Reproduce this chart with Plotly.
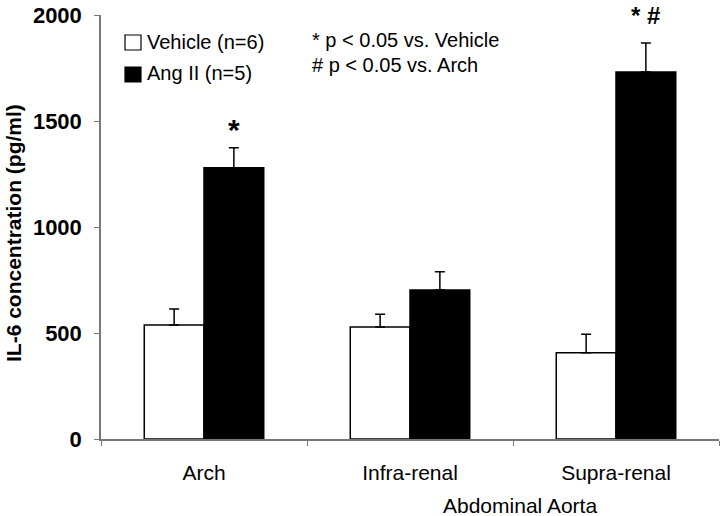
import plotly.graph_objects as go

categories = ["Arch", "Infra-renal", "Supra-renal"]
vehicle = [538, 528, 407]
vehicle_err = [75, 60, 87]
angii = [1280, 703, 1731]
angii_err = [94, 86, 137]
yticks = [0, 500, 1000, 1500, 2000]
series_names = ["Vehicle (n=6)", "Ang II (n=5)"]
series_colors = ["white", "black"]

FONT = "Liberation Sans, Arial, sans-serif"
W, H = 720, 516
ML, MR, MT, MB = 101, 1, 15, 77
PW, PH = W - ML - MR, H - MT - MB


def px(x):  # screen pixel -> paper x
    return (x - ML) / PW


def py(y):  # screen pixel -> paper y
    return (H - MB - y) / PH


fig = go.Figure()
for name, vals, errs, col in [(series_names[0], vehicle, vehicle_err, series_colors[0]),
                              (series_names[1], angii, angii_err, series_colors[1])]:
    fig.add_trace(go.Bar(
        x=categories, y=vals, name=name, showlegend=False,
        marker=dict(color=col, line=dict(color="black", width=1.5)),
        error_y=dict(type="data", symmetric=False, array=errs,
                     arrayminus=[0] * len(errs), color="black",
                     thickness=1.5, width=5),
    ))

fig.update_layout(
    width=W, height=H,
    margin=dict(l=ML, r=MR, t=MT, b=MB),
    paper_bgcolor="white", plot_bgcolor="white",
    barmode="group", bargap=0.42, bargroupgap=0,
    font=dict(family=FONT, color="black"),
    showlegend=False,
)
fig.update_xaxes(
    type="category", tickson="boundaries", ticks="outside", ticklen=5,
    tickcolor="#777", showline=True, linecolor="#777", linewidth=1.5,
    tickfont=dict(size=21, family=FONT), ticklabelstandoff=14,
    showgrid=False, range=[-0.5, 2.5], automargin=False,
)
fig.update_yaxes(
    range=[0, 2000], tickvals=yticks, ticktext=[f"<b>{v}</b>" for v in yticks],
    ticks="outside", ticklen=5, tickcolor="#777", showline=True,
    linecolor="#777", linewidth=1.5, showgrid=False, zeroline=False,
    tickfont=dict(size=22, family=FONT), ticklabelstandoff=8,
    automargin=False, ticklabeloverflow="allow",
)


def txt(x, y, text, size, xanchor="center", **kw):
    fig.add_annotation(xref="paper", yref="paper", x=px(x), y=py(y),
                       text=text, showarrow=False, xanchor=xanchor,
                       yanchor="middle", font=dict(size=size, family=FONT), **kw)


# y-axis title
txt(14, 233, "<b>IL-6 concentration (pg/ml)</b>", 21, textangle=-90)

# manual legend
legend_rows = [(35, 42), (67, 73)]
for (top, tcy), name, col in zip(legend_rows, series_names, series_colors):
    fig.add_shape(type="rect", xref="paper", yref="paper",
                  x0=px(125), x1=px(141), y0=py(top + 15), y1=py(top),
                  fillcolor=col, line=dict(color="black", width=1.2))
    txt(145, tcy, name, 20, xanchor="left")

off = 0.58 / 4
fig.add_annotation(x=0 + off, y=angii[0] + angii_err[0], text="<b>*</b>",
                   showarrow=False, xanchor="center", yanchor="bottom", yshift=0,
                   font=dict(size=30, family=FONT))
fig.add_annotation(x=2 + off, y=angii[2] + angii_err[2], text="<b>* #</b>",
                   showarrow=False, xanchor="center", yanchor="bottom", yshift=12,
                   font=dict(size=24, family=FONT))
txt(310, 40, "* p &lt; 0.05 vs. Vehicle", 20, xanchor="left")
txt(310, 65, "# p &lt; 0.05 vs. Arch", 20, xanchor="left")
txt(520, 505, "Abdominal Aorta", 21)

fig.write_html("out.html",
               config={"displayModeBar": False},
               post_script="document.body.style.margin='0px';"
                           "document.body.style.overflow='hidden';")
